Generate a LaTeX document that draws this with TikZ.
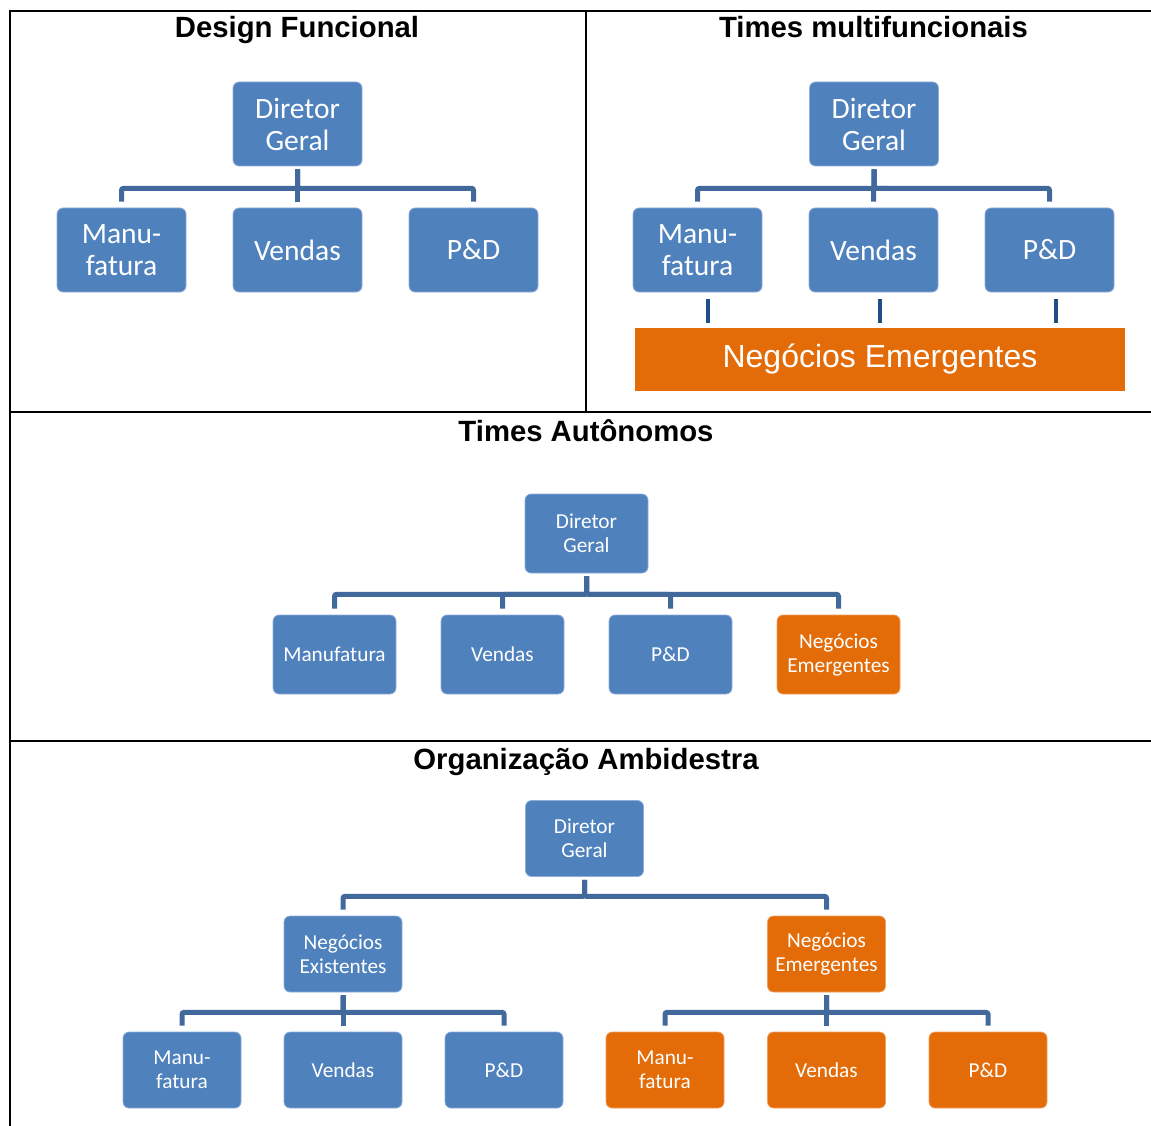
\documentclass[tikz,border=0pt]{standalone}
\usepackage{fontspec}
\setmainfont{Carlito}
\newfontfamily\arialfont{Liberation Sans}
\usetikzlibrary{calc}

\definecolor{boxblue}{HTML}{4F81BD}
\definecolor{boxedge}{HTML}{8FAEDA}
\definecolor{connblue}{HTML}{41699B}
\definecolor{tickblue}{HTML}{1F4E88}
\definecolor{orangeC}{HTML}{E36C09}
\definecolor{orangeedge}{HTML}{F0A060}

\tikzset{
  box/.style={rectangle, rounded corners=6pt, fill=boxblue, draw=boxedge,
    line width=0.7pt, text=white, align=center, inner sep=0pt},
  orangebox/.style={fill=orangeC, draw=orangeedge},
  bigbox/.style={box, minimum width=129pt, minimum height=84pt,
    font=\fontsize{29.5}{32}\selectfont},
  midbox/.style={box, minimum width=123pt, minimum height=79pt,
    font=\fontsize{21.3}{24}\selectfont},
  smallbox/.style={box, minimum width=118pt, minimum height=76pt,
    font=\fontsize{21.3}{24}\selectfont},
  conn/.style={draw=connblue, line width=5pt, rounded corners=2pt},
  tickline/.style={draw=tickblue, line width=4pt},
  frameline/.style={line width=2pt, black},
  paneltitle/.style={font=\arialfont\bfseries\fontsize{29.3}{33}\selectfont,
    inner sep=0pt, anchor=base}
}

\begin{document}
\begin{tikzpicture}[x=1pt, y=-1pt]
\useasboundingbox (0,0) rectangle (1151,1126);

% table rules
\draw[frameline] (10,11) -- (1151,11);
\draw[frameline] (10,10) -- (10,1126);
\draw[frameline] (10,412) -- (1151,412);
\draw[frameline] (10,741) -- (1151,741);
\draw[frameline] (586,11) -- (586,412);

% ---------- Design Funcional ----------
\node[paneltitle] (t1) at (297,38) {Design Funcional};
\node[bigbox] (dg1) at (297.5,124) {Diretor\\Geral};
\node[bigbox] (m1) at (121.5,250) {Manu-\\fatura};
\node[bigbox] (v1) at (297.5,250) {Vendas};
\node[bigbox] (p1) at (473.5,250) {P\&D};
\foreach \c in {m1,v1,p1}
  \draw[conn] ([yshift=-3pt]dg1.south) -- ++(0,19) -| ([yshift=6pt]\c.north);

% ---------- Times multifuncionais ----------
\node[paneltitle] (t2) at (873.5,38) {Times multifuncionais};
\node[bigbox] (dg2) at (874,124) {Diretor\\Geral};
\node[bigbox] (m2) at (697.5,250) {Manu-\\fatura};
\node[bigbox] (v2) at (873.5,250) {Vendas};
\node[bigbox] (p2) at (1049.5,250) {P\&D};
\foreach \c in {m2,v2,p2}
  \draw[conn] ([yshift=-3pt]dg2.south) -- ++(0,19) -| ([yshift=6pt]\c.north);
\node[fill=orangeC, minimum width=490pt, minimum height=63pt, inner sep=0pt,
  text=white, font=\arialfont\fontsize{32}{36}\selectfont] (neg2) at (880,359.5)
  {Negócios Emergentes};
\draw[tickline] ($(m2.south)+(10.5,7)$) -- ($(m2.south |- neg2.north)+(10.5,-5)$);
\draw[tickline] ($(v2.south)+(6.5,7)$) -- ($(v2.south |- neg2.north)+(6.5,-5)$);
\draw[tickline] ($(p2.south)+(6.5,7)$) -- ($(p2.south |- neg2.north)+(6.5,-5)$);

% ---------- Times Autônomos ----------
\node[paneltitle] (t3) at (586,441) {Times Autônomos};
\node[midbox] (dg3) at (586.5,533.5) {Diretor\\Geral};
\node[midbox] (m3) at (334.5,654.5) {Manufatura};
\node[midbox] (v3) at (502.5,654.5) {Vendas};
\node[midbox] (p3) at (670.5,654.5) {P\&D};
\node[midbox, orangebox] (n3) at (838.5,654.5) {Negócios\\Emergentes};
\foreach \c in {m3,v3,p3,n3}
  \draw[conn] ([yshift=-3pt]dg3.south) -- ++(0,18) -| ([yshift=6pt]\c.north);

% ---------- Organização Ambidestra ----------
\node[paneltitle] (t4) at (586,769) {Organização Ambidestra};
\node[smallbox] (dg4) at (584.5,838.5) {Diretor\\Geral};
\node[smallbox] (ex4) at (343,954) {Negócios\\Existentes};
\node[smallbox, orangebox] (em4) at (826.5,954) {Negócios\\Emergentes};
\foreach \c in {ex4,em4}
  \draw[conn] ([yshift=-3pt]dg4.south) -- ++(0,16.5) -| ([yshift=6pt]\c.north);

\node[smallbox] (exm) at (182,1070) {Manu-\\fatura};
\node[smallbox] (exv) at (343,1070) {Vendas};
\node[smallbox] (exp) at (504,1070) {P\&D};
\foreach \c in {exm,exv,exp}
  \draw[conn] ([yshift=-3pt]ex4.south) -- ++(0,17) -| ([yshift=6pt]\c.north);

\node[smallbox, orangebox] (emm) at (665,1070) {Manu-\\fatura};
\node[smallbox, orangebox] (emv) at (826.5,1070) {Vendas};
\node[smallbox, orangebox] (emp) at (988,1070) {P\&D};
\foreach \c in {emm,emv,emp}
  \draw[conn] ([yshift=-3pt]em4.south) -- ++(0,17) -| ([yshift=6pt]\c.north);

\end{tikzpicture}
\end{document}
